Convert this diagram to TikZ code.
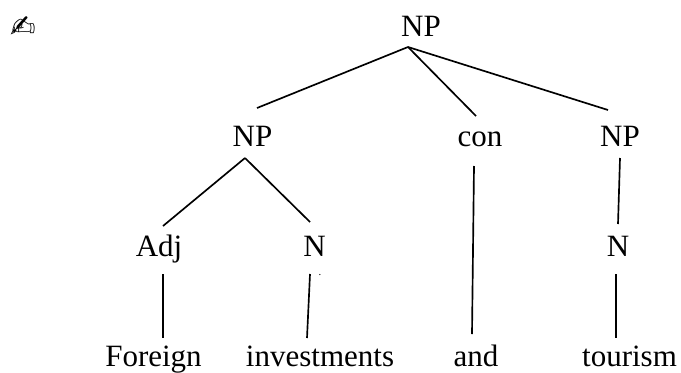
\documentclass[tikz,border=0pt]{standalone}
\usepackage{fontspec}
\setmainfont{Liberation Serif}
\newfontfamily\penfont{DejaVu Sans}
\tikzset{
  word/.style={
    anchor=base, inner sep=0pt, outer sep=0pt, text height=22.5pt, text depth=9pt,
    font=\fontsize{23.25}{28}\selectfont
  },
  branch/.style={
    line width=1.25pt, color=black
  }
}

\begin{document}
\begin{tikzpicture}[x=0.75pt, y=-0.75pt]
    \useasboundingbox (0,0) rectangle (681,372);

    % Pen mark
    \node[anchor=base, inner sep=0pt, font=\penfont\fontsize{23}{25}\selectfont] (pen) at (23,37) {✍};

    % Top
    \node[word] (root) at (421,36) {NP};

    % Second row
    \node[word] (npleft) at (252.5,146) {NP};
    \node[word] (con) at (480,146) {con};
    \node[word] (npright) at (620,146) {NP};

    % Third row
    \node[word] (adj) at (159,256) {Adj};
    \node[word] (nleft) at (314.5,256) {N};
    \node[word] (nright) at (618,256) {N};
    \node[anchor=base, inner sep=0pt, font=\fontsize{8}{10}\selectfont] (speck) at (320,275) {.};

    % Words
    \node[word] (foreign) at (153.5,366) {Foreign};
    \node[word] (investments) at (320,366) {investments};
    \node[word] (and) at (476,366) {and};
    \node[word] (tourism) at (629.5,366) {tourism};

    % Branches
    \draw[branch] ([shift={(-13,-1)}]root.south) -- ([shift={(4.5,-8)}]npleft.north);
    \draw[branch] ([shift={(-13,-1)}]root.south) -- ([shift={(-4,0)}]con.north);
    \draw[branch] ([shift={(-13,-1)}]root.south) -- ([shift={(-12,-6)}]npright.north);
    \draw[branch] ([shift={(-7.5,0)}]npleft.south) -- ([shift={(4,0)}]adj.north);
    \draw[branch] ([shift={(-7.5,0)}]npleft.south) -- ([shift={(-4.5,-4)}]nleft.north);
    \draw[branch] ([shift={(-6,8)}]con.south) -- ([shift={(-4,-2)}]and.north);
    \draw[branch] (npright.south) -- ([shift={(0,-2)}]nright.north);
    \draw[branch] ([shift={(4,6)}]adj.south) -- ([shift={(9.5,2)}]foreign.north);
    \draw[branch] ([shift={(-4.5,6)}]nleft.south) -- ([shift={(-13,2)}]investments.north);
    \draw[branch] ([shift={(-2,6)}]nright.south) -- ([shift={(-13.5,2)}]tourism.north);

\end{tikzpicture}
\end{document}
